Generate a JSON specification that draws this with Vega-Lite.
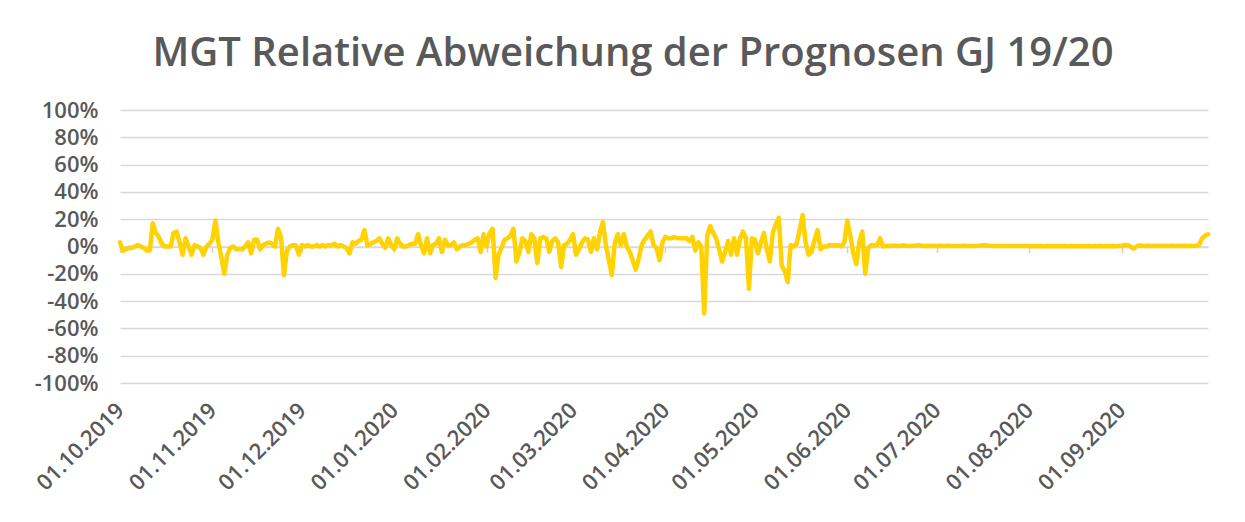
{
  "$schema": "https://vega.github.io/schema/vega-lite/v6.json",
  "width": 1088,
  "height": 273,
  "autosize": {"type": "none"},
  "padding": {"left": 120, "top": 110, "right": 37, "bottom": 139},
  "background": "white",
  "title": {
    "text": "MGT Relative Abweichung der Prognosen GJ 19/20",
    "font": "Open Sans",
    "fontSize": 40,
    "fontWeight": 600,
    "color": "#595959",
    "anchor": "middle",
    "dx": -31,
    "offset": 25
  },
  "config": {"view": {"stroke": null}},
  "data": {"values": [
    {"t":"2019-10-01","v":3},{"t":"2019-10-02","v":-3},{"t":"2019-10-03","v":-2},{"t":"2019-10-04","v":-1},{"t":"2019-10-05","v":-1},{"t":"2019-10-06","v":0},{"t":"2019-10-07","v":1},{"t":"2019-10-08","v":0},{"t":"2019-10-09","v":-1},{"t":"2019-10-10","v":-3},{"t":"2019-10-11","v":-3},{"t":"2019-10-12","v":17},{"t":"2019-10-13","v":10},{"t":"2019-10-14","v":7},{"t":"2019-10-15","v":2},{"t":"2019-10-16","v":0},{"t":"2019-10-17","v":0},{"t":"2019-10-18","v":0},{"t":"2019-10-19","v":10},{"t":"2019-10-20","v":11},{"t":"2019-10-21","v":3},{"t":"2019-10-22","v":-6},{"t":"2019-10-23","v":6},{"t":"2019-10-24","v":0},{"t":"2019-10-25","v":-6},{"t":"2019-10-26","v":1},{"t":"2019-10-27","v":0},{"t":"2019-10-28","v":-1},{"t":"2019-10-29","v":-6},{"t":"2019-10-30","v":0},{"t":"2019-10-31","v":2},
    {"t":"2019-11-01","v":5},{"t":"2019-11-02","v":19},{"t":"2019-11-03","v":3},{"t":"2019-11-04","v":-8},{"t":"2019-11-05","v":-20},{"t":"2019-11-06","v":-6},{"t":"2019-11-07","v":-1},{"t":"2019-11-08","v":0},{"t":"2019-11-09","v":-2},{"t":"2019-11-10","v":-2},{"t":"2019-11-11","v":-2},{"t":"2019-11-12","v":0},{"t":"2019-11-13","v":3},{"t":"2019-11-14","v":-5},{"t":"2019-11-15","v":5},{"t":"2019-11-16","v":5},{"t":"2019-11-17","v":-2},{"t":"2019-11-18","v":1},{"t":"2019-11-19","v":2},{"t":"2019-11-20","v":3},{"t":"2019-11-21","v":2},{"t":"2019-11-22","v":0},{"t":"2019-11-23","v":13},{"t":"2019-11-24","v":7},{"t":"2019-11-25","v":-21},{"t":"2019-11-26","v":-3},{"t":"2019-11-27","v":0},{"t":"2019-11-28","v":1},{"t":"2019-11-29","v":1},{"t":"2019-11-30","v":-6},
    {"t":"2019-12-01","v":1},{"t":"2019-12-02","v":0},{"t":"2019-12-03","v":1},{"t":"2019-12-04","v":0},{"t":"2019-12-05","v":0},{"t":"2019-12-06","v":1},{"t":"2019-12-07","v":0},{"t":"2019-12-08","v":1},{"t":"2019-12-09","v":0},{"t":"2019-12-10","v":1},{"t":"2019-12-11","v":1},{"t":"2019-12-12","v":2},{"t":"2019-12-13","v":0},{"t":"2019-12-14","v":1},{"t":"2019-12-15","v":0},{"t":"2019-12-16","v":-1},{"t":"2019-12-17","v":-5},{"t":"2019-12-18","v":3},{"t":"2019-12-19","v":2},{"t":"2019-12-20","v":4},{"t":"2019-12-21","v":5},{"t":"2019-12-22","v":12},{"t":"2019-12-23","v":1},{"t":"2019-12-24","v":2},{"t":"2019-12-25","v":3},{"t":"2019-12-26","v":4},{"t":"2019-12-27","v":6},{"t":"2019-12-28","v":2},{"t":"2019-12-29","v":-1},{"t":"2019-12-30","v":6},{"t":"2019-12-31","v":1},
    {"t":"2020-01-01","v":-2},{"t":"2020-01-02","v":6},{"t":"2020-01-03","v":2},{"t":"2020-01-04","v":0},{"t":"2020-01-05","v":0},{"t":"2020-01-06","v":1},{"t":"2020-01-07","v":2},{"t":"2020-01-08","v":2},{"t":"2020-01-09","v":9},{"t":"2020-01-10","v":1},{"t":"2020-01-11","v":-5},{"t":"2020-01-12","v":6},{"t":"2020-01-13","v":-5},{"t":"2020-01-14","v":1},{"t":"2020-01-15","v":2},{"t":"2020-01-16","v":6},{"t":"2020-01-17","v":-4},{"t":"2020-01-18","v":5},{"t":"2020-01-19","v":1},{"t":"2020-01-20","v":1},{"t":"2020-01-21","v":3},{"t":"2020-01-22","v":-2},{"t":"2020-01-23","v":0},{"t":"2020-01-24","v":1},{"t":"2020-01-25","v":1},{"t":"2020-01-26","v":2},{"t":"2020-01-27","v":3},{"t":"2020-01-28","v":5},{"t":"2020-01-29","v":6},{"t":"2020-01-30","v":-4},{"t":"2020-01-31","v":9},
    {"t":"2020-02-01","v":0},{"t":"2020-02-02","v":10},{"t":"2020-02-03","v":13},{"t":"2020-02-04","v":-23},{"t":"2020-02-05","v":-6},{"t":"2020-02-06","v":-1},{"t":"2020-02-07","v":5},{"t":"2020-02-08","v":6},{"t":"2020-02-09","v":8},{"t":"2020-02-10","v":13},{"t":"2020-02-11","v":-11},{"t":"2020-02-12","v":-4},{"t":"2020-02-13","v":6},{"t":"2020-02-14","v":4},{"t":"2020-02-15","v":-4},{"t":"2020-02-16","v":9},{"t":"2020-02-17","v":6},{"t":"2020-02-18","v":-12},{"t":"2020-02-19","v":6},{"t":"2020-02-20","v":7},{"t":"2020-02-21","v":6},{"t":"2020-02-22","v":-4},{"t":"2020-02-23","v":4},{"t":"2020-02-24","v":6},{"t":"2020-02-25","v":3},{"t":"2020-02-26","v":-15},{"t":"2020-02-27","v":1},{"t":"2020-02-28","v":2},{"t":"2020-02-29","v":5},
    {"t":"2020-03-01","v":9},{"t":"2020-03-02","v":-6},{"t":"2020-03-03","v":-2},{"t":"2020-03-04","v":3},{"t":"2020-03-05","v":6},{"t":"2020-03-06","v":5},{"t":"2020-03-07","v":-4},{"t":"2020-03-08","v":6},{"t":"2020-03-09","v":-2},{"t":"2020-03-10","v":10},{"t":"2020-03-11","v":18},{"t":"2020-03-12","v":1},{"t":"2020-03-13","v":-10},{"t":"2020-03-14","v":-21},{"t":"2020-03-15","v":3},{"t":"2020-03-16","v":9},{"t":"2020-03-17","v":1},{"t":"2020-03-18","v":9},{"t":"2020-03-19","v":0},{"t":"2020-03-20","v":-4},{"t":"2020-03-21","v":-10},{"t":"2020-03-22","v":-17},{"t":"2020-03-23","v":-9},{"t":"2020-03-24","v":1},{"t":"2020-03-25","v":5},{"t":"2020-03-26","v":8},{"t":"2020-03-27","v":11},{"t":"2020-03-28","v":1},{"t":"2020-03-29","v":-1},{"t":"2020-03-30","v":-10},{"t":"2020-03-31","v":3},
    {"t":"2020-04-01","v":7},{"t":"2020-04-02","v":6},{"t":"2020-04-03","v":6},{"t":"2020-04-04","v":7},{"t":"2020-04-05","v":6},{"t":"2020-04-06","v":6},{"t":"2020-04-07","v":6},{"t":"2020-04-08","v":6},{"t":"2020-04-09","v":4},{"t":"2020-04-10","v":7},{"t":"2020-04-11","v":-3},{"t":"2020-04-12","v":3},{"t":"2020-04-13","v":0},{"t":"2020-04-14","v":-49},{"t":"2020-04-15","v":8},{"t":"2020-04-16","v":15},{"t":"2020-04-17","v":10},{"t":"2020-04-18","v":6},{"t":"2020-04-19","v":-2},{"t":"2020-04-20","v":-11},{"t":"2020-04-21","v":-4},{"t":"2020-04-22","v":4},{"t":"2020-04-23","v":-6},{"t":"2020-04-24","v":6},{"t":"2020-04-25","v":-6},{"t":"2020-04-26","v":6},{"t":"2020-04-27","v":11},{"t":"2020-04-28","v":6},{"t":"2020-04-29","v":-31},{"t":"2020-04-30","v":6},
    {"t":"2020-05-01","v":5},{"t":"2020-05-02","v":-5},{"t":"2020-05-03","v":3},{"t":"2020-05-04","v":10},{"t":"2020-05-05","v":-2},{"t":"2020-05-06","v":-11},{"t":"2020-05-07","v":10},{"t":"2020-05-08","v":16},{"t":"2020-05-09","v":21},{"t":"2020-05-10","v":-14},{"t":"2020-05-11","v":-18},{"t":"2020-05-12","v":-26},{"t":"2020-05-13","v":1},{"t":"2020-05-14","v":0},{"t":"2020-05-15","v":2},{"t":"2020-05-16","v":12},{"t":"2020-05-17","v":23},{"t":"2020-05-18","v":3},{"t":"2020-05-19","v":-6},{"t":"2020-05-20","v":-4},{"t":"2020-05-21","v":5},{"t":"2020-05-22","v":12},{"t":"2020-05-23","v":-2},{"t":"2020-05-24","v":0},{"t":"2020-05-25","v":0},{"t":"2020-05-26","v":1},{"t":"2020-05-27","v":1},{"t":"2020-05-28","v":1},{"t":"2020-05-29","v":1},{"t":"2020-05-30","v":0},{"t":"2020-05-31","v":3},
    {"t":"2020-06-01","v":19},{"t":"2020-06-02","v":8},{"t":"2020-06-03","v":-5},{"t":"2020-06-04","v":-13},{"t":"2020-06-05","v":3},{"t":"2020-06-06","v":11},{"t":"2020-06-07","v":-20},{"t":"2020-06-08","v":-1},{"t":"2020-06-09","v":1},{"t":"2020-06-10","v":1},{"t":"2020-06-11","v":1},{"t":"2020-06-12","v":6},{"t":"2020-06-13","v":0},{"t":"2020-06-14","v":0.5},{"t":"2020-06-15","v":0.3},{"t":"2020-06-16","v":0.5},{"t":"2020-06-17","v":0.6},{"t":"2020-06-18","v":0.4},{"t":"2020-06-19","v":0.5},{"t":"2020-06-20","v":0.7},{"t":"2020-06-21","v":0.5},{"t":"2020-06-22","v":0.4},{"t":"2020-06-23","v":0.6},{"t":"2020-06-24","v":0.5},{"t":"2020-06-25","v":1},{"t":"2020-06-26","v":0.5},{"t":"2020-06-27","v":0.4},{"t":"2020-06-28","v":0.5},{"t":"2020-06-29","v":0.3},{"t":"2020-06-30","v":0.5},
    {"t":"2020-07-01","v":0.4},{"t":"2020-07-02","v":0.5},{"t":"2020-07-03","v":0.3},{"t":"2020-07-04","v":0.4},{"t":"2020-07-05","v":0.5},{"t":"2020-07-06","v":0.3},{"t":"2020-07-07","v":0.4},{"t":"2020-07-08","v":0.3},{"t":"2020-07-09","v":0.4},{"t":"2020-07-10","v":0.5},{"t":"2020-07-11","v":0.3},{"t":"2020-07-12","v":0.4},{"t":"2020-07-13","v":0.3},{"t":"2020-07-14","v":0.4},{"t":"2020-07-15","v":0.5},{"t":"2020-07-16","v":0.7},{"t":"2020-07-17","v":0.9},{"t":"2020-07-18","v":0.7},{"t":"2020-07-19","v":0.5},{"t":"2020-07-20","v":0.4},{"t":"2020-07-21","v":0.3},{"t":"2020-07-22","v":0.4},{"t":"2020-07-23","v":0.3},{"t":"2020-07-24","v":0.4},{"t":"2020-07-25","v":0.3},{"t":"2020-07-26","v":0.4},{"t":"2020-07-27","v":0.3},{"t":"2020-07-28","v":0.4},{"t":"2020-07-29","v":0.3},{"t":"2020-07-30","v":0.4},{"t":"2020-07-31","v":0.3},
    {"t":"2020-08-01","v":0.3},{"t":"2020-08-02","v":0.2},{"t":"2020-08-03","v":0.3},{"t":"2020-08-04","v":0.2},{"t":"2020-08-05","v":0.3},{"t":"2020-08-06","v":0.2},{"t":"2020-08-07","v":0.3},{"t":"2020-08-08","v":0.2},{"t":"2020-08-09","v":0.3},{"t":"2020-08-10","v":0.2},{"t":"2020-08-11","v":0.3},{"t":"2020-08-12","v":0.2},{"t":"2020-08-13","v":0.3},{"t":"2020-08-14","v":0.2},{"t":"2020-08-15","v":0.3},{"t":"2020-08-16","v":0.2},{"t":"2020-08-17","v":0.3},{"t":"2020-08-18","v":0.2},{"t":"2020-08-19","v":0.3},{"t":"2020-08-20","v":0.2},{"t":"2020-08-21","v":0.3},{"t":"2020-08-22","v":0.2},{"t":"2020-08-23","v":0.3},{"t":"2020-08-24","v":0.2},{"t":"2020-08-25","v":0.3},{"t":"2020-08-26","v":0.2},{"t":"2020-08-27","v":0.3},{"t":"2020-08-28","v":0.2},{"t":"2020-08-29","v":0.3},{"t":"2020-08-30","v":0.2},{"t":"2020-08-31","v":0.3},
    {"t":"2020-09-01","v":0.3},{"t":"2020-09-02","v":1.2},{"t":"2020-09-03","v":1},{"t":"2020-09-04","v":0},{"t":"2020-09-05","v":-1.5},{"t":"2020-09-06","v":0},{"t":"2020-09-07","v":0.8},{"t":"2020-09-08","v":0.5},{"t":"2020-09-09","v":0.4},{"t":"2020-09-10","v":0.5},{"t":"2020-09-11","v":0.4},{"t":"2020-09-12","v":0.5},{"t":"2020-09-13","v":0.4},{"t":"2020-09-14","v":0.5},{"t":"2020-09-15","v":0.4},{"t":"2020-09-16","v":0.5},{"t":"2020-09-17","v":0.4},{"t":"2020-09-18","v":0.5},{"t":"2020-09-19","v":0.4},{"t":"2020-09-20","v":0.5},{"t":"2020-09-21","v":0.4},{"t":"2020-09-22","v":0.5},{"t":"2020-09-23","v":0.4},{"t":"2020-09-24","v":0.5},{"t":"2020-09-25","v":0.4},{"t":"2020-09-26","v":0.5},{"t":"2020-09-27","v":1},{"t":"2020-09-28","v":6},{"t":"2020-09-29","v":8},{"t":"2020-09-30","v":9}
  ]},
  "mark": {"type": "line", "color": "#FFD200", "strokeWidth": 4.5, "strokeJoin": "round", "strokeCap": "round", "clip": false},
  "encoding": {
    "x": {
      "field": "t",
      "type": "temporal",
      "scale": {"type": "utc", "domain": [{"year": 2019, "month": 10, "date": 1, "utc": true}, {"year": 2020, "month": 9, "date": 30, "utc": true}]},
      "axis": {
        "title": null,
        "values": [
          {"year": 2019, "month": 10, "date": 1, "utc": true},
          {"year": 2019, "month": 11, "date": 1, "utc": true},
          {"year": 2019, "month": 12, "date": 1, "utc": true},
          {"year": 2020, "month": 1, "date": 1, "utc": true},
          {"year": 2020, "month": 2, "date": 1, "utc": true},
          {"year": 2020, "month": 3, "date": 1, "utc": true},
          {"year": 2020, "month": 4, "date": 1, "utc": true},
          {"year": 2020, "month": 5, "date": 1, "utc": true},
          {"year": 2020, "month": 6, "date": 1, "utc": true},
          {"year": 2020, "month": 7, "date": 1, "utc": true},
          {"year": 2020, "month": 8, "date": 1, "utc": true},
          {"year": 2020, "month": 9, "date": 1, "utc": true}
        ],
        "labelExpr": "utcFormat(datum.value, '%d.%m.%Y')",
        "offset": -136.5,
        "grid": false,
        "domain": true,
        "domainColor": "#d9d9d9",
        "domainWidth": 1.5,
        "ticks": true,
        "tickColor": "#d0d0d0",
        "tickWidth": 1.5,
        "tickSize": 6,
        "labelAngle": -45,
        "labelAlign": "right",
        "labelBaseline": "middle",
        "labelPadding": 154,
        "labelFont": "Open Sans",
        "labelFontSize": 22,
        "labelFontWeight": 600,
        "labelColor": "#595959",
        "labelOverlap": false,
        "labelFlush": false,
        "labelBound": false
      }
    },
    "y": {
      "field": "v",
      "type": "quantitative",
      "scale": {"domain": [-100, 100], "nice": false, "zero": false},
      "axis": {
        "title": null,
        "values": [-100, -80, -60, -40, -20, 0, 20, 40, 60, 80, 100],
        "labelExpr": "datum.value + '%'",
        "domain": false,
        "ticks": false,
        "grid": true,
        "gridColor": "#d9d9d9",
        "gridWidth": 1.5,
        "labelPadding": 22,
        "labelFont": "Open Sans",
        "labelFontSize": 22,
        "labelFontWeight": 600,
        "labelColor": "#595959",
        "labelOverlap": false,
        "labelFlush": false
      }
    }
  }
}
